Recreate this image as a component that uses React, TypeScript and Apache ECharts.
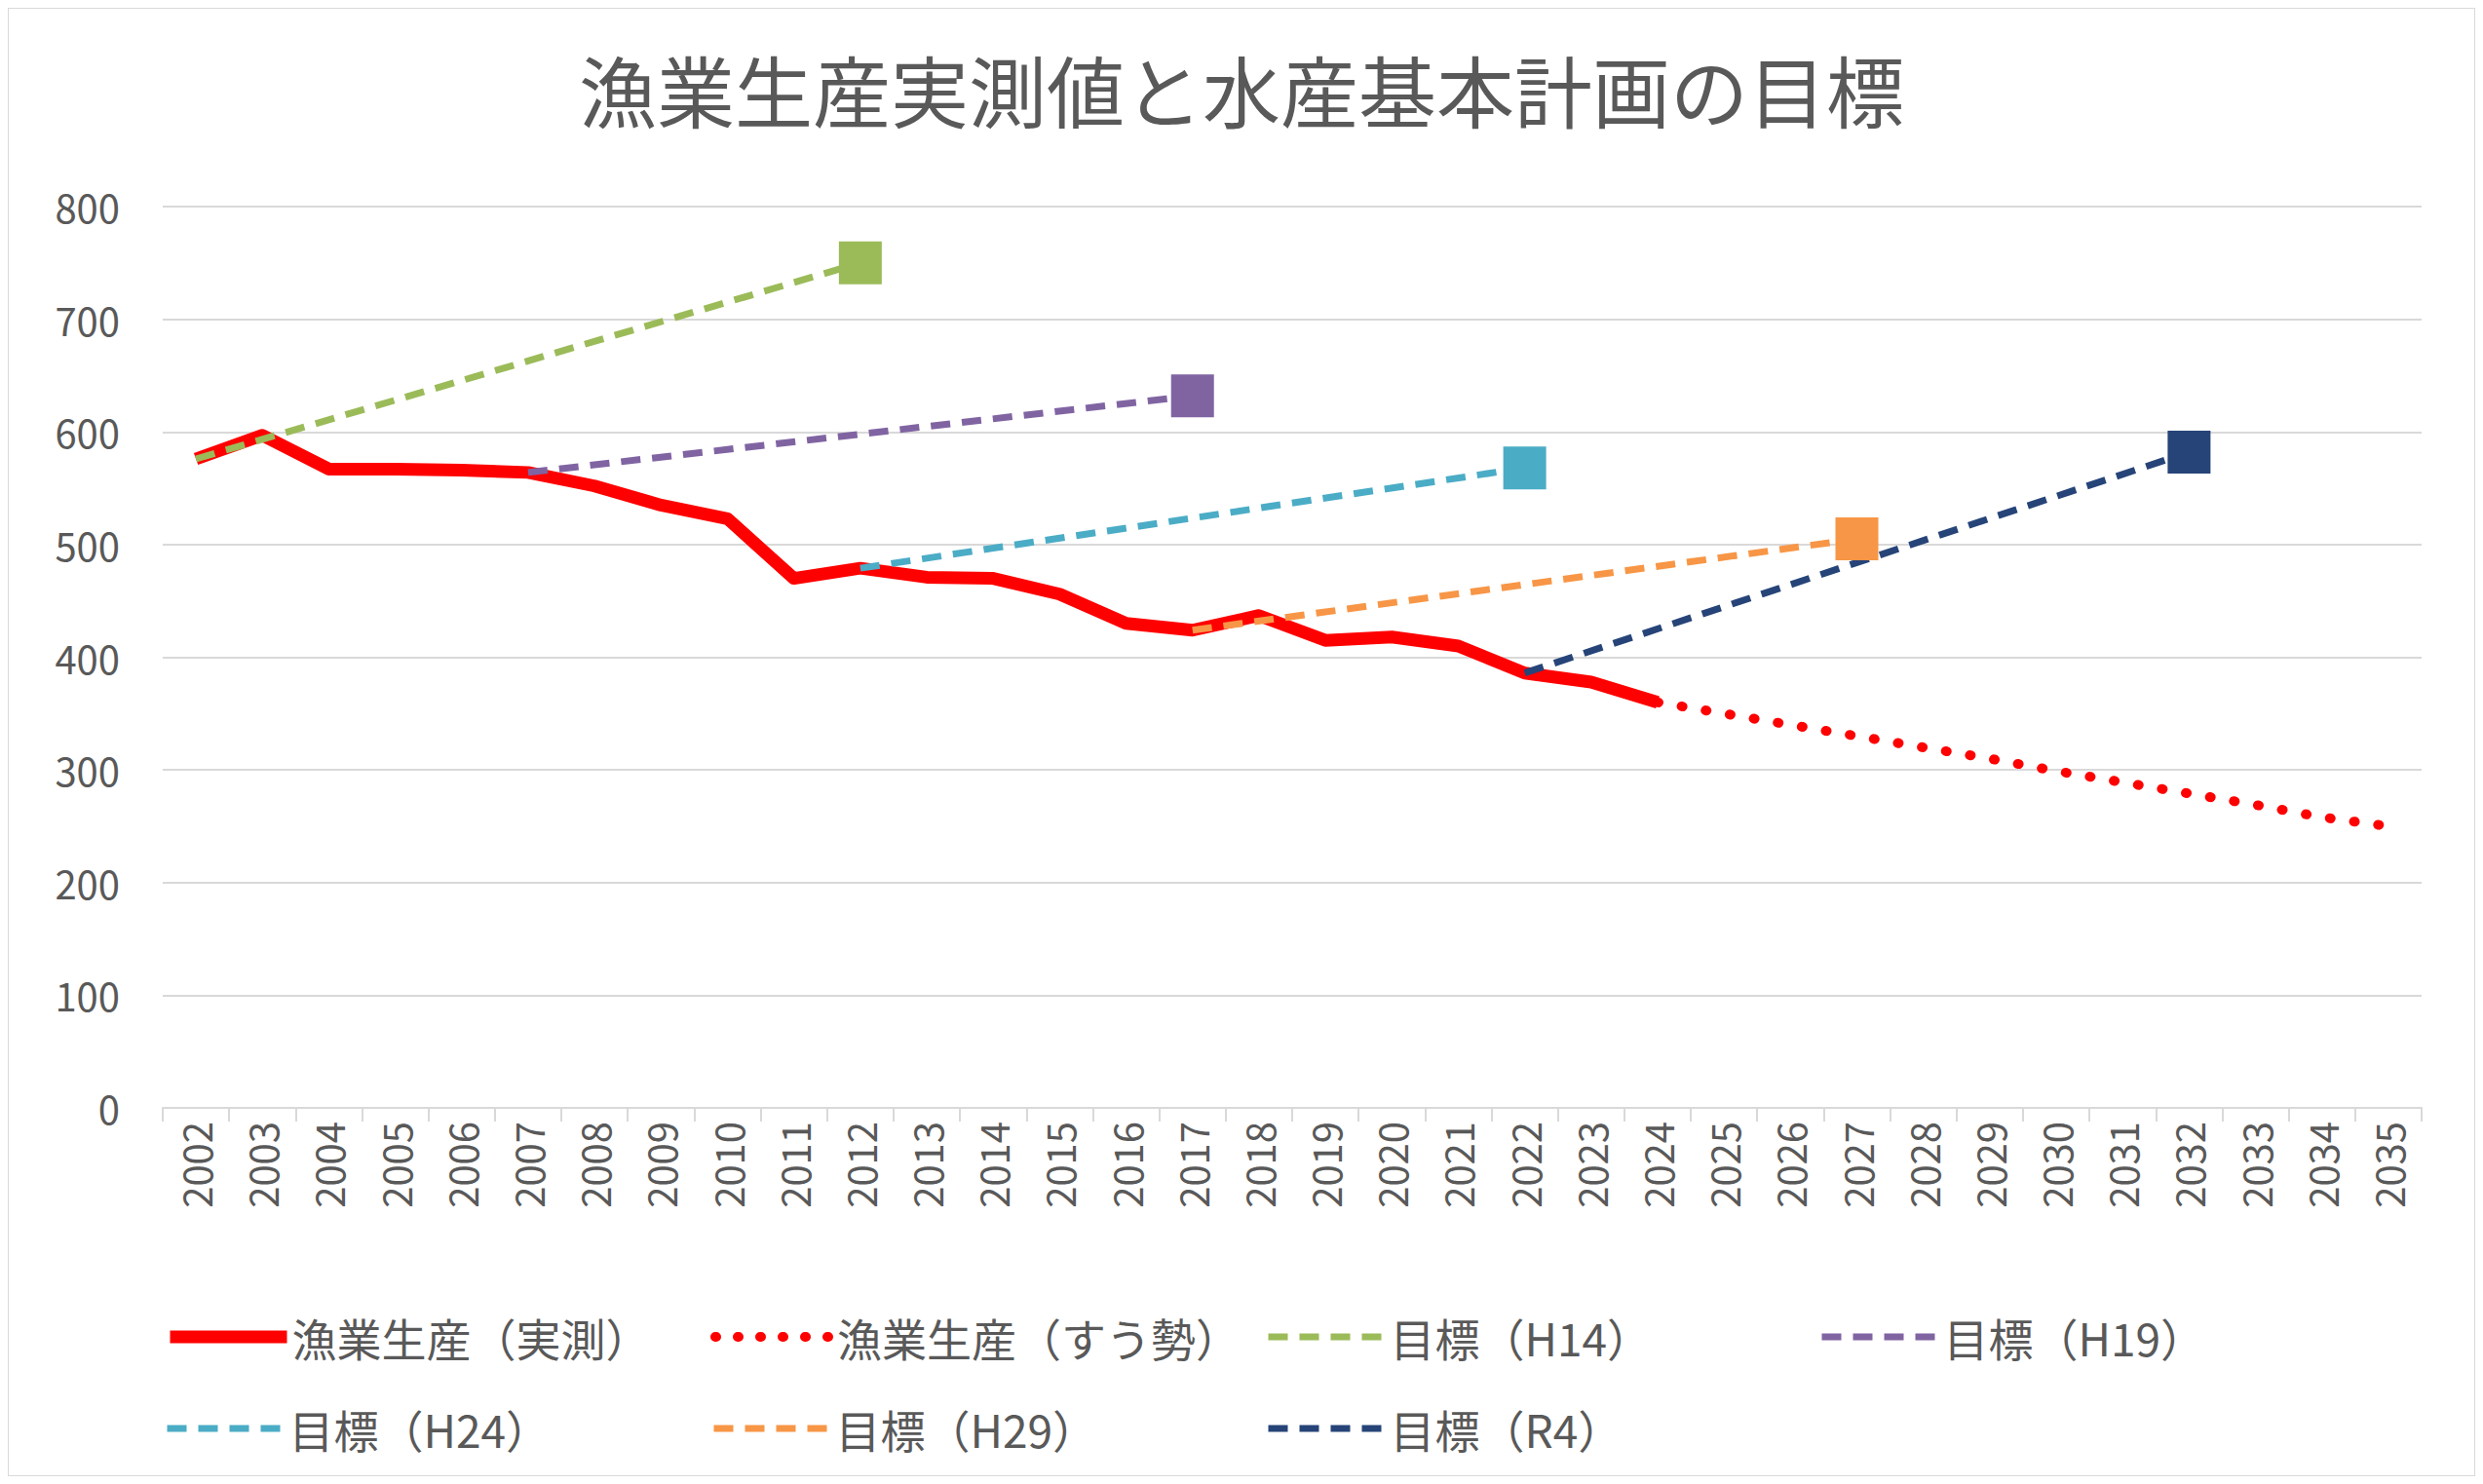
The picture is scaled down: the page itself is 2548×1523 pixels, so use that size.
import React, { useEffect, useRef } from 'react';
import * as echarts from 'echarts';

const years = Array.from({ length: 34 }, (_, i) => String(2002 + i));
const actual = [576, 597, 567, 567, 566, 564, 552, 535, 523, 470, 479, 471, 470, 456, 430, 424, 437, 415, 418, 410, 386, 378, 360];
const trend = [360, 350, 340, 330, 320, 310, 299, 289, 279, 269, 258, 250];
const targets = [
  { name: '目標（H14）', from: '2002', start: 576, to: '2012', end: 750, color: '#9BBB59' },
  { name: '目標（H19）', from: '2007', start: 564, to: '2017', end: 632, color: '#8064A2' },
  { name: '目標（H24）', from: '2012', start: 479, to: '2022', end: 568, color: '#4BACC6' },
  { name: '目標（H29）', from: '2017', start: 424, to: '2027', end: 505, color: '#F79646' },
  { name: '目標（R4）', from: '2022', start: 386, to: '2032', end: 582, color: '#264478' },
];
const legendNames = ['漁業生産（実測）', '漁業生産（すう勢）', '目標（H14）', '目標（H19）', '目標（H24）', '目標（H29）', '目標（R4）'];
const legendPos = [[154, 1335], [715, 1335], [1284, 1335], [1852, 1335], [154, 1429], [715, 1429], [1284, 1429]];

const font = '"Noto Sans CJK JP", "Noto Sans", sans-serif';

const App = () => {
  const ref = useRef(null);

  useEffect(() => {
    if (!ref.current) return;
    const chart = echarts.init(ref.current, null, { renderer: 'svg' });

    const targetSeries = targets.map((t) => ({
      name: t.name,
      type: 'line',
      connectNulls: true,
      symbol: 'none',
      color: t.color,
      lineStyle: { color: t.color, width: 7, type: [20, 12] },
      itemStyle: { color: t.color },
      z: 3,
      data: years.map((y) => {
        if (y === t.from) return { value: t.start, symbol: 'none' };
        if (y === t.to) return { value: t.end, symbol: 'rect', symbolSize: 44 };
        return null;
      }),
    }));

    const legendLines = [
      { width: 13, type: 'solid', cap: 'butt' },
      { width: 10, type: [1, 22], cap: 'round' },
    ];

    chart.setOption({
      animation: false,
      textStyle: { fontFamily: font },
      title: {
        text: '漁業生産実測値と水産基本計画の目標',
        left: 'center',
        top: 36,
        textStyle: { fontSize: 80, fontWeight: 'normal', color: '#595959', fontFamily: font },
      },
      grid: { left: 158, right: 54, top: 203, bottom: 377 },
      legend: legendNames.map((n, i) => ({
        data: [n],
        left: legendPos[i][0],
        top: legendPos[i][1],
        itemWidth: 120,
        itemHeight: 14,
        itemGap: 10,
        itemStyle: { opacity: 0 },
        lineStyle: legendLines[i] || { width: 7, type: [20, 12] },
        textStyle: { fontSize: 46, color: '#595959', fontFamily: font },
      })),
      xAxis: {
        type: 'category',
        data: years,
        axisLine: { lineStyle: { color: '#D9D9D9', width: 2 } },
        axisTick: { show: true, interval: 0, length: 14, lineStyle: { color: '#D9D9D9', width: 2 } },
        axisLabel: { rotate: 90, interval: 0, fontSize: 40, color: '#595959', margin: 14 },
      },
      yAxis: {
        type: 'value',
        min: 0,
        max: 800,
        interval: 100,
        axisLabel: { fontSize: 40, color: '#595959', margin: 44 },
        splitLine: { lineStyle: { color: '#D9D9D9', width: 2 } },
      },
      series: [
        {
          name: '漁業生産（実測）',
          type: 'line',
          symbol: 'none',
          color: '#FF0000',
          lineStyle: { color: '#FF0000', width: 13, join: 'round' },
          z: 2,
          data: actual,
        },
        {
          name: '漁業生産（すう勢）',
          type: 'line',
          symbol: 'none',
          color: '#FF0000',
          lineStyle: { color: '#FF0000', width: 10, type: [1, 24], cap: 'round' },
          data: [...Array(22).fill(null), ...trend],
        },
        ...targetSeries,
      ],
    });

    return () => chart.dispose();
  }, []);

  return <div ref={ref} style={{ width: 2530, height: 1505, border: '1px solid #D9D9D9', background: '#fff' }} />;
};

export default App;
